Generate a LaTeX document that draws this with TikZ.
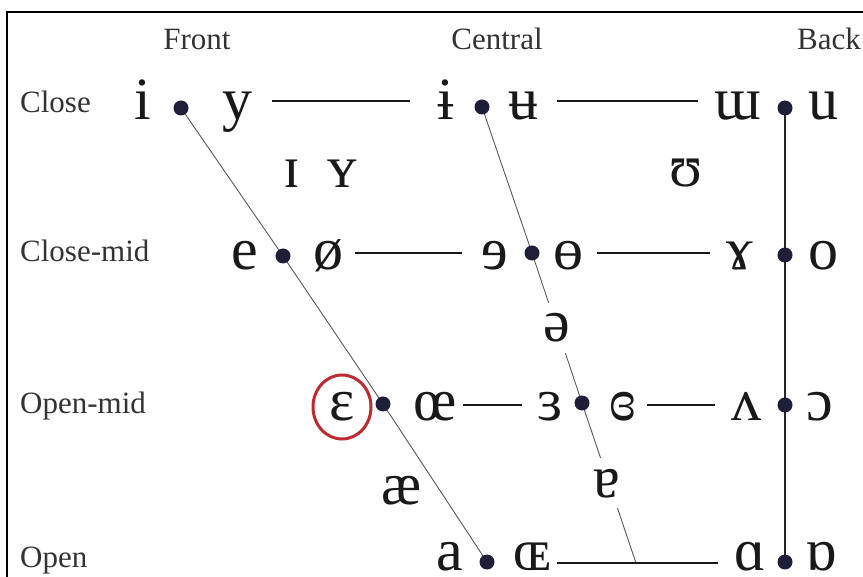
\documentclass[tikz,border=0pt]{standalone}
\usepackage{fontspec}
\setmainfont{Liberation Serif}
\definecolor{dotcol}{HTML}{1E1E38}
\definecolor{ringred}{HTML}{BE2A30}
\begin{document}
\begin{tikzpicture}[x=1pt,y=-1pt,
  lbl/.style={font=\fontsize{31}{31}\selectfont, text=black!80, inner sep=0pt, anchor=base west},
  hdr/.style={font=\fontsize{31}{31}\selectfont, text=black!80, inner sep=0pt, anchor=base},
  ipa/.style={font=\fontsize{60}{60}\selectfont, text=black!90, inner sep=0pt, anchor=base, text depth=0pt},
  gapipa/.style={ipa, fill=white, inner sep=11pt},
  vdot/.style={circle, fill=dotcol, inner sep=0pt, minimum size=15pt},
  hline/.style={line width=1.6pt, draw=black!90},
  slant/.style={line width=0.9pt, draw=black!65},
  backline/.style={line width=2pt, draw=black!85},
  frame/.style={line width=2pt, draw=black},
  ring/.style={line width=3pt, draw=ringred}]
\useasboundingbox (0,0) rectangle (863,577);
\fill[white] (0,0) rectangle (863,577);
\draw[frame] (7,577) -- (7,12) -- (863,12);

% headers and row labels
\node[hdr] (hFront) at (197,50) {Front};
\node[hdr] (hCentral) at (497,50) {Central};
\node[lbl] (hBack) at (797,50) {Back};
\node[lbl] (rClose) at (20,113) {Close};
\node[lbl] (rCloseMid) at (20,262) {Close-mid};
\node[lbl] (rOpenMid) at (20,414) {Open-mid};
\node[lbl, text depth=0pt] (rOpen) at (20,567) {Open};

% dot positions
\coordinate (pI) at (181,108);
\coordinate (pIbar) at (482,107);
\coordinate (pU) at (785,108);
\coordinate (pE) at (283,256);
\coordinate (pSchwaR) at (532,253);
\coordinate (pO) at (785,255);
\coordinate (pEps) at (383,404);
\coordinate (pRevE) at (582,403);
\coordinate (pOpen) at (785,405);
\coordinate (pA) at (487,562);
\coordinate (pBackA) at (785,562);
\coordinate (cEnd) at (636,563);

% slanted and back lines
\draw[slant] (pI) -- (pE) -- (pEps) -- (pA);
\draw[slant] (pIbar) -- (pSchwaR) -- (pRevE) -- (cEnd);
\draw[backline] (pU) -- (pBackA);

% horizontal line ends
\coordinate (l1a) at (272,101); \coordinate (l1b) at (410,101);
\coordinate (l2a) at (557,101); \coordinate (l2b) at (698,101);
\coordinate (l3a) at (355,253); \coordinate (l3b) at (462,253);
\coordinate (l4a) at (597,253); \coordinate (l4b) at (710,253);
\coordinate (l5a) at (463,405); \coordinate (l5b) at (522,405);
\coordinate (l6a) at (647,405); \coordinate (l6b) at (715,405);
\coordinate (l7a) at (557,563); \coordinate (l7b) at (718,563);
\draw[hline] (l1a) -- (l1b);
\draw[hline] (l2a) -- (l2b);
\draw[hline] (l3a) -- (l3b);
\draw[hline] (l4a) -- (l4b);
\draw[hline] (l5a) -- (l5b);
\draw[hline] (l6a) -- (l6b);
\draw[hline] (l7a) -- (l7b);

% dots
\foreach \p in {pI,pIbar,pU,pE,pSchwaR,pO,pEps,pRevE,pOpen,pA,pBackA}
  \node[vdot] (d\p) at (\p) {};

% close row
\node[ipa] (vi) at (143,120) {i};
\node[ipa] (vy) at (237,120) {y};
\node[ipa] (vibar) at (446,120) {ɨ};
\node[ipa] (vubar) at (523,120) {ʉ};
\node[ipa] (vturnm) at (738,120) {ɯ};
\node[ipa] (vu) at (823,120) {u};
% near-close
\node[ipa] (vsmi) at (292,188) {ɪ};
\node[ipa] (vsmy) at (342,188) {ʏ};
\node[ipa] (vups) at (686,187) {ʊ};
% close-mid
\node[ipa] (ve) at (245,270) {e};
\node[ipa] (voslash) at (328,270) {ø};
\node[ipa] (vreve) at (495,270) {ɘ};
\node[ipa] (vbaro) at (568,270) {ɵ};
\node[ipa] (vgamma) at (740,270) {ɤ};
\node[ipa] (vo) at (823,270) {o};
% mid
\node[gapipa] (vschwa) at (557,342) {ə};
% open-mid
\node[ipa] (veps) at (342,421) {ɛ};
\node[ipa] (voe) at (435,421) {œ};
\node[ipa] (vreveps) at (550,421) {ɜ};
\node[ipa] (vclosedreveps) at (623,421) {ɞ};
\node[ipa] (vturnv) at (746,421) {ʌ};
\node[ipa] (vopeno) at (820,421) {ɔ};
% near-open
\node[ipa] (vae) at (402,504) {æ};
\node[gapipa] (vturna) at (607,497) {ɐ};
% open
\node[ipa] (va) at (450,570) {a};
\node[ipa] (vOE) at (532,570) {ɶ};
\node[ipa] (valpha) at (750,570) {ɑ};
\node[ipa] (vturnalpha) at (821,570) {ɒ};

% red ring around the open-mid front vowel
\draw[ring] (342,407) ellipse [x radius=29, y radius=32];
\end{tikzpicture}
\end{document}
